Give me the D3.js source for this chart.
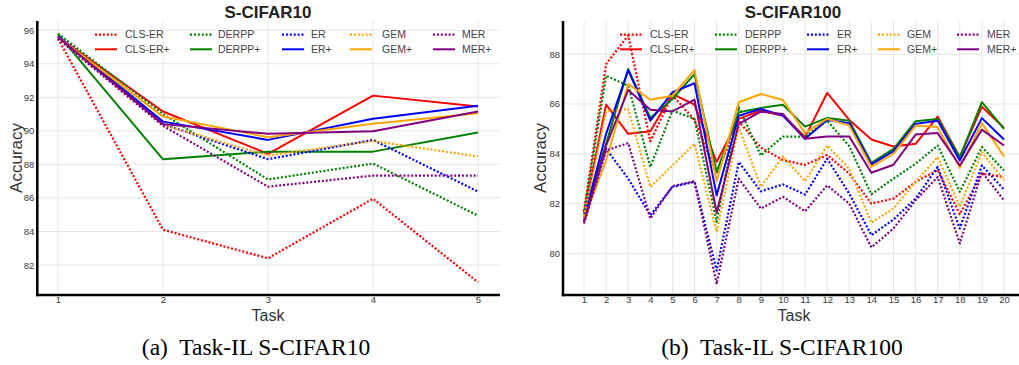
<!DOCTYPE html>
<html><head><meta charset="utf-8">
<script src="https://cdn.jsdelivr.net/npm/d3@7/dist/d3.min.js"></script>
<style>
body{margin:0;background:#fff}
svg{display:block;font-family:"Liberation Sans",Arial,sans-serif}
</style>
</head><body>
<svg id="c" width="1019" height="365"></svg>
<script>
// ---------- data ----------
const seriesNames  = ["CLS-ER","CLS-ER+","DERPP","DERPP+","ER","ER+","GEM","GEM+","MER","MER+"];
const seriesColors = ["#ff0000","#ff0000","#008000","#008000","#0000ff","#0000ff","#ffa500","#ffa500","#800080","#800080"];
const seriesDotted = [true,false,true,false,true,false,true,false,true,false];

// S-CIFAR10
const tasksA  = [1,2,3,4,5];
const yTicksA = [82,84,86,88,90,92,94,96];
const clsER_A   = [95.5, 84.1, 82.4, 85.95, 80.97];
const clsERp_A  = [95.6, 91.15, 88.63, 92.1, 91.45];
const derpp_A   = [95.8, 91.0, 87.1, 88.05, 84.94];
const derppP_A  = [95.75, 88.3, 88.76, 88.76, 89.9];
const er_A      = [95.6, 90.4, 88.31, 89.46, 86.38];
const erP_A     = [95.65, 90.55, 89.46, 90.72, 91.49];
const gem_A     = [95.5, 90.35, 88.53, 89.4, 88.47];
const gemP_A    = [95.6, 90.85, 89.62, 90.42, 91.05];
const mer_A     = [95.5, 90.3, 86.67, 87.33, 87.33];
const merP_A    = [95.6, 90.4, 89.82, 89.98, 91.15];

// S-CIFAR100
const tasksB  = [1,2,3,4,5,6,7,8,9,10,11,12,13,14,15,16,17,18,19,20];
const yTicksB = [80,82,84,86,88];
const clsER_B  = [81.7, 87.6, 88.75, 84.5, 86.35, 85.35, 83.2, 85.3, 84.25, 83.75, 83.55, 83.95, 83.2, 82.0, 82.2, 82.87, 83.35, 81.57, 83.2, 83.07];
const clsERp_B = [81.6, 85.97, 84.8, 84.9, 86.4, 85.97, 83.67, 85.4, 85.73, 85.53, 84.67, 86.44, 85.36, 84.57, 84.29, 84.4, 85.49, 83.87, 85.89, 85.04];
const derpp_B  = [81.6, 87.13, 86.73, 83.47, 85.73, 85.4, 81.27, 85.87, 83.93, 84.69, 84.69, 85.33, 84.3, 82.37, 83.0, 83.6, 84.33, 82.47, 84.27, 83.33];
const derppP_B = [81.5, 84.4, 87.4, 85.44, 86.2, 87.2, 83.27, 85.67, 85.84, 85.97, 85.09, 85.44, 85.33, 83.64, 84.2, 85.31, 85.4, 83.87, 86.07, 85.0];
const er_B     = [81.3, 84.2, 83.0, 81.53, 82.67, 82.87, 79.31, 83.67, 82.49, 82.77, 82.36, 83.8, 82.4, 80.73, 81.36, 82.2, 83.47, 81.0, 83.53, 82.56];
const erP_B    = [81.4, 84.8, 87.36, 85.33, 86.47, 86.83, 82.33, 85.53, 85.8, 85.53, 84.6, 85.36, 85.23, 83.57, 84.11, 85.2, 85.33, 83.73, 85.43, 84.57];
const gem_B    = [81.5, 85.7, 85.8, 82.67, 83.53, 84.4, 80.87, 85.07, 82.67, 83.89, 82.9, 84.33, 83.4, 81.23, 81.8, 82.87, 83.87, 81.87, 84.07, 82.93];
const gemP_B   = [81.4, 83.73, 86.8, 86.17, 86.33, 87.36, 82.9, 86.07, 86.4, 86.16, 84.83, 85.4, 85.13, 83.47, 84.0, 85.13, 85.07, 83.44, 85.23, 83.89];
const mer_B    = [81.2, 84.13, 84.43, 81.4, 82.7, 82.9, 78.77, 83.0, 81.8, 82.27, 81.69, 82.73, 82.0, 80.24, 81.0, 82.13, 83.07, 80.4, 83.27, 82.13];
const merP_B   = [81.25, 84.33, 86.56, 85.77, 85.7, 86.17, 81.63, 85.2, 85.69, 85.6, 84.6, 84.69, 84.69, 83.24, 83.56, 84.77, 84.83, 83.53, 84.97, 84.33];

const valuesA = [clsER_A, clsERp_A, derpp_A, derppP_A, er_A, erP_A, gem_A, gemP_A, mer_A, merP_A];
const valuesB = [clsER_B, clsERp_B, derpp_B, derppP_B, er_B, erP_B, gem_B, gemP_B, mer_B, merP_B];

// ---------- drawing ----------
const svg = d3.select("#c");

function drawChart(o){
  const g = svg.append("g");
  const x = d3.scaleLinear().domain([o.tasks[0], o.tasks[o.tasks.length-1]]).range([o.x0, o.x1]);
  const y = d3.scaleLinear().domain(o.yDomain).range([o.bottom, o.top]);

  // grid lines
  g.append("g").selectAll("line").data(o.tasks).join("line")
    .attr("x1", d=>x(d)).attr("x2", d=>x(d)).attr("y1", o.top).attr("y2", o.bottom)
    .attr("stroke", "#e6e6e6").attr("stroke-width", 1);
  g.append("g").selectAll("line").data(o.yTicks).join("line")
    .attr("x1", o.left).attr("x2", o.right).attr("y1", d=>y(d)).attr("y2", d=>y(d))
    .attr("stroke", "#e6e6e6").attr("stroke-width", 1);

  // axes tick labels
  const ax = g.append("g").attr("transform", `translate(0,${o.bottom})`)
    .call(d3.axisBottom(x).tickValues(o.tasks).tickSize(0).tickPadding(1.5).tickFormat(d3.format("d")));
  const ay = g.append("g").attr("transform", `translate(${o.left},0)`)
    .call(d3.axisLeft(y).tickValues(o.yTicks).tickSize(0).tickPadding(3).tickFormat(d3.format("d")));
  [ax, ay].forEach(a=>{
    a.select(".domain").remove();
    a.selectAll("text").attr("font-family", "Liberation Sans, Arial, sans-serif")
      .attr("font-size", 9.5).attr("fill", "#3a3a3a");
  });

  // series lines
  const line = d3.line().x((d,i)=>x(o.tasks[i])).y(d=>y(d));
  o.values.forEach((vals, k)=>{
    g.append("path").datum(vals)
      .attr("d", line).attr("fill", "none")
      .attr("stroke", seriesColors[k])
      .attr("stroke-width", seriesDotted[k] ? 2.2 : 2)
      .attr("stroke-dasharray", seriesDotted[k] ? "2,1.9" : null)
      .attr("stroke-linejoin", "round");
  });

  // frame (left + bottom)
  g.append("line").attr("x1", o.left).attr("x2", o.left).attr("y1", o.top).attr("y2", o.bottom+1.2)
    .attr("stroke", "#000").attr("stroke-width", 2.5);
  g.append("line").attr("x1", o.left-1.2).attr("x2", o.right).attr("y1", o.bottom).attr("y2", o.bottom)
    .attr("stroke", "#000").attr("stroke-width", 2.5);

  // legend
  seriesNames.forEach((name, k)=>{
    const col = Math.floor(k/2), row = k%2;
    const ly = o.legendRows[row];
    g.append("line").attr("x1", o.legendLineX[col]).attr("x2", o.legendLineX[col]+22)
      .attr("y1", ly).attr("y2", ly)
      .attr("stroke", seriesColors[k]).attr("stroke-width", seriesDotted[k] ? 2.2 : 2)
      .attr("stroke-dasharray", seriesDotted[k] ? "2,1.9" : null);
    g.append("text").attr("x", o.legendTextX[col]).attr("y", ly).attr("dy", "0.36em")
      .attr("font-size", 10.5).attr("fill", "#444").text(name);
  });

  // title
  g.append("text").attr("x", o.titleX).attr("y", 18).attr("text-anchor", "middle")
    .attr("font-size", 17).attr("font-weight", "bold").attr("fill", "#222").text(o.title);
  // axis titles
  g.append("text").attr("x", o.taskX).attr("y", 320.5).attr("text-anchor", "middle")
    .attr("font-size", 16).attr("fill", "#333").text("Task");
  g.append("text").attr("transform", `translate(${o.accX},${(o.top+o.bottom)/2}) rotate(-90)`)
    .attr("text-anchor", "middle").attr("font-size", 17).attr("fill", "#333").text("Accuracy");
  // caption
  g.append("text").attr("x", o.capX).attr("y", 355).attr("text-anchor", "middle")
    .attr("font-family", "Liberation Serif, Times New Roman, serif")
    .attr("font-size", 23.5).attr("fill", "#000").attr("xml:space","preserve").text(o.caption);
}

drawChart({
  tasks: tasksA, values: valuesA, yTicks: yTicksA,
  yDomain: [80.21, 96.55],
  x0: 58, x1: 478, left: 37.3, right: 500, top: 21, bottom: 295,
  legendRows: [34.7, 49.3],
  legendLineX: [95, 190, 282, 350, 433],
  legendTextX: [125, 218, 311, 382, 462],
  title: "S-CIFAR10", titleX: 268, taskX: 268, accX: 22,
  caption: "(a)  Task-IL S-CIFAR10", capX: 256
});

drawChart({
  tasks: tasksB, values: valuesB, yTicks: yTicksB,
  yDomain: [78.33, 89.33],
  x0: 584, x1: 1004, left: 563, right: 1019, top: 21, bottom: 295,
  legendRows: [34.7, 49.3],
  legendLineX: [620, 715, 807, 878, 957],
  legendTextX: [650, 745, 837, 907, 987],
  title: "S-CIFAR100", titleX: 793, taskX: 794, accX: 546,
  caption: "(b)  Task-IL S-CIFAR100", capX: 782
});
</script>
</body></html>
